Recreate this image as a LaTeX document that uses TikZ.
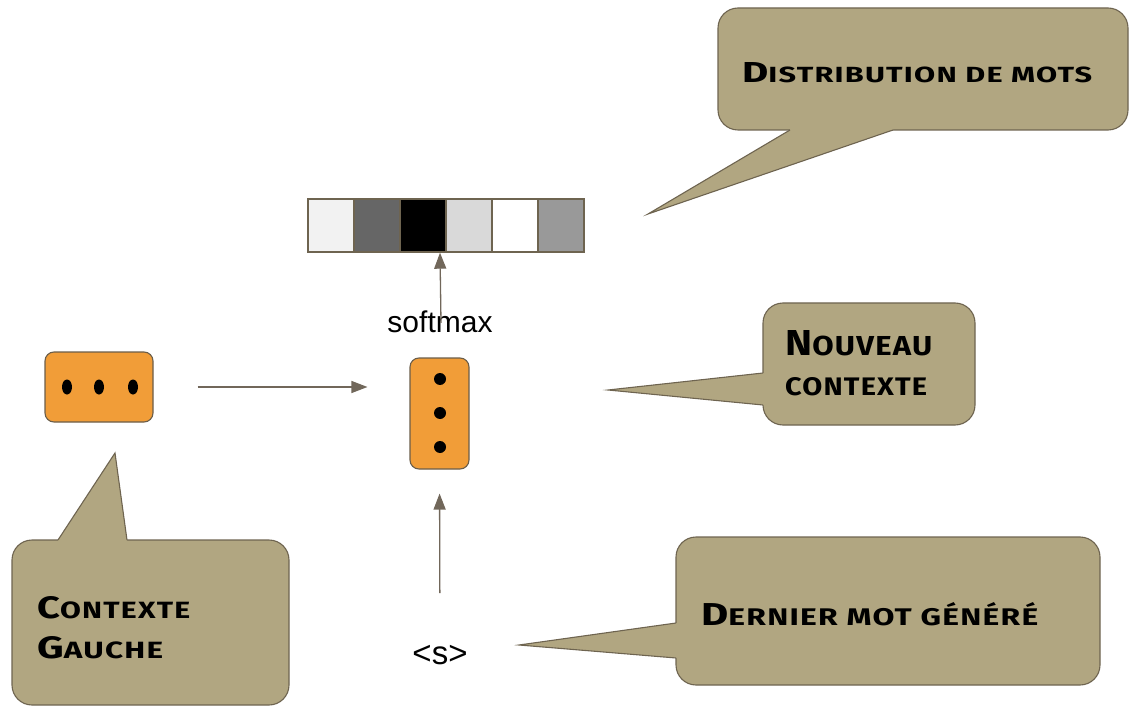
\documentclass[tikz,border=0pt]{standalone}
\usepackage{fontspec}
\usepackage{graphicx}
\usetikzlibrary{arrows.meta,shapes.geometric}
\setmainfont{Liberation Sans}
\newfontfamily\markerfont{Fira Sans}[LetterSpace=4]
\definecolor{bubblefill}{HTML}{B1A681}
\definecolor{bubbleline}{HTML}{6E6450}
\definecolor{boxorange}{HTML}{F19D38}
\definecolor{boxline}{HTML}{6B5E4A}
\definecolor{arrowcol}{HTML}{71675A}
% hand-lettered caps: a tall initial followed by smaller capitals
\newcommand\mkbig[1]{{\fontsize{25}{25}\selectfont #1}}
\newcommand\mksmall[1]{{\fontsize{19}{19}\selectfont #1}}
\newcommand\mkline[3]{\resizebox{#1}{#2}{\markerfont\bfseries #3}}
\tikzset{
  bubble/.style={rectangle, rounded corners=20pt, draw=bubbleline, fill=bubblefill,
    line width=1.1pt, inner sep=0pt},
  bubbletext/.style={anchor=base west, inner sep=0pt, text=black},
  vecbox/.style={rectangle, draw=bubbleline, line width=1.4pt, minimum width=46pt,
    minimum height=53pt, inner sep=0pt},
  orangebox/.style={rectangle, rounded corners=9pt, draw=boxline, fill=boxorange,
    line width=1.1pt, inner sep=0pt},
  dot/.style={ellipse, fill=black, inner sep=0pt},
  flow/.style={draw=arrowcol, line width=1.3pt, -{Triangle[length=16pt,width=12pt]}},
  plain/.style={inner sep=0pt}
}
\begin{document}
\begin{tikzpicture}[x=1pt,y=-1pt]
\useasboundingbox (0,0) rectangle (1129,708);

% probability vector
\node[vecbox, fill={rgb,255:red,242;green,242;blue,242}] (c1) at (331,225.5) {};
\node[vecbox, fill={rgb,255:red,102;green,102;blue,102}] (c2) at (377,225.5) {};
\node[vecbox, fill=black] (c3) at (423,225.5) {};
\node[vecbox, fill={rgb,255:red,217;green,217;blue,217}] (c4) at (469,225.5) {};
\node[vecbox, fill=white] (c5) at (515,225.5) {};
\node[vecbox, fill={rgb,255:red,153;green,153;blue,153}] (c6) at (561,225.5) {};

% hidden states
\node[orangebox, minimum width=108pt, minimum height=70pt] (left) at (99,387) {};
\node[dot, minimum width=10pt, minimum height=15pt] (l1) at (67,387) {};
\node[dot, minimum width=10pt, minimum height=15pt] (l2) at (99,387) {};
\node[dot, minimum width=10pt, minimum height=15pt] (l3) at (133,387) {};

\node[orangebox, minimum width=59pt, minimum height=111pt] (mid) at (439.5,413.5) {};
\node[dot, minimum width=12pt, minimum height=12pt] (m1) at (440,379) {};
\node[dot, minimum width=12pt, minimum height=12pt] (m2) at (440,413) {};
\node[dot, minimum width=12pt, minimum height=12pt] (m3) at (440,447) {};

% plain labels
\node[plain, font=\fontsize{30}{30}\selectfont] (softmax) at (440,322) {softmax};
\node[plain, font=\fontsize{33}{33}\selectfont] (start) at (440,655) {<s>};

% connectors
\draw[flow, shorten <=44pt, shorten >=42pt] (left.east) -- (left.east -| mid.west);
\draw[flow, shorten <=52pt, shorten >=24pt] (start.north) -- (mid.south);
\draw[flow] ([xshift=1pt,yshift=-12pt]softmax.north) -- (c3.south -| softmax.north);

% callout: Distribution de mots
\node[bubble, minimum width=410pt, minimum height=122pt] (bdist) at (923,69) {};
\fill[bubblefill] (790,126) -- (790,130) -- (648,214) -- (893,130) -- (893,126) -- cycle;
\draw[bubbleline, line width=1.1pt, line join=miter] (790,130) coordinate (d1) -- (648,214) coordinate (dtip) -- (893,130) coordinate (d2);
\node[bubbletext] (tdist) at (742,83) {\mkline{350pt}{20pt}{\mkbig{D}\mksmall{ISTRIBUTION DE MOTS}}};

% callout: Nouveau contexte
\node[bubble, minimum width=212pt, minimum height=122pt] (bnew) at (869,364) {};
\fill[bubblefill] (767,373) -- (763,373) -- (608,390) -- (763,405) -- (767,405) -- cycle;
\draw[bubbleline, line width=1.1pt] (763,373) coordinate (n1) -- (608,390) coordinate (ntip) -- (763,405) coordinate (n2);
\node[bubbletext] (tnew1) at (785,355) {\mkline{147pt}{25pt}{\mkbig{N}\mksmall{OUVEAU}}};
\node[bubbletext] (tnew2) at (785,395) {\mkline{142pt}{18pt}{\mksmall{CONTEXTE}}};

% callout: Contexte gauche
\node[bubble, minimum width=277pt, minimum height=165pt] (bleft) at (150.5,622.5) {};
\fill[bubblefill] (58,544) -- (58,540) -- (115,453) -- (127,540) -- (127,544) -- cycle;
\draw[bubbleline, line width=1.1pt] (58,540) coordinate (g1) -- (115,453) coordinate (gtip) -- (127,540) coordinate (g2);
\node[bubbletext] (tleft1) at (37,618) {\mkline{153pt}{22pt}{\mkbig{C}\mksmall{ONTEXTE}}};
\node[bubbletext] (tleft2) at (37,658) {\mkline{126pt}{22pt}{\mkbig{G}\mksmall{AUCHE}}};

% callout: Dernier mot généré
\node[bubble, minimum width=424pt, minimum height=148pt] (blast) at (888,611) {};
\fill[bubblefill] (680,623) -- (676,623) -- (519,645) -- (676,658) -- (680,658) -- cycle;
\draw[bubbleline, line width=1.1pt] (676,623) coordinate (s1) -- (519,645) coordinate (stip) -- (676,658) coordinate (s2);
\node[bubbletext] (tlast) at (701,625) {\mkline{337pt}{23pt}{\mkbig{D}\mksmall{ERNIER MOT GÉNÉRÉ}}};
\end{tikzpicture}
\end{document}
